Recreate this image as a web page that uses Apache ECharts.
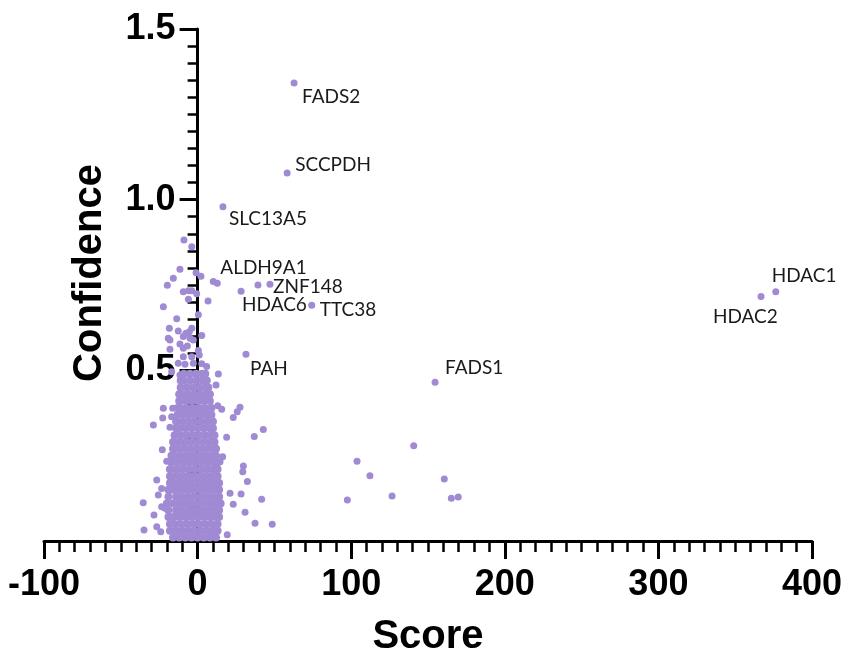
<!DOCTYPE html>
<html>
<head>
<meta charset="utf-8">
<script src="https://cdn.jsdelivr.net/npm/echarts@6/dist/echarts.min.js"></script>
<style>
html,body{margin:0;padding:0;background:#fff;}
#chart{width:846px;height:653px;}
</style>
</head>
<body>
<div id="chart"></div>
<script>
// ---- Data ----
const xTicks = [-100, 0, 100, 200, 300, 400];
const yTicks = [0.5, 1.0, 1.5];

// labelled genes
const geneNames  = ['FADS2', 'SCCPDH', 'SLC13A5', 'ALDH9A1', 'ZNF148', 'HDAC6', 'TTC38', 'PAH', 'FADS1', 'HDAC1', 'HDAC2'];
const geneScores = [62.8, 58.3, 16.5, 10.2, 47.1, 28.3, 74.3, 31.5, 154.6, 376.4, 366.8];
const geneConf   = [1.342, 1.078, 0.979, 0.760, 0.752, 0.732, 0.691, 0.547, 0.465, 0.730, 0.716];

// unlabelled scattered points
const otherScores = [
  140.7, 103.8, 112.2, 97.5, 126.6, 160.6, 165.2, 169.7, 39.3,
  -8.9, -3.8, -11.5, -15.8, -19.7, -1.0, 2.2, 12.8, -9.3, -6.0, -3.8, -6.0, -0.6, 6.8,
  -22.3, 0.5, -13.6, -18.4, -3.8, -5.4, -7.6, -12.6, -19.1, -18.0, -9.3, -4.9, -2.8, 2.7,
  -11.5, -6.7, -9.3, -18.0, 0.5, 1.1, -3.8, -9.3, -12.6, -8.2, -2.8, 2.7, 5.9, 13.5,
  -16.9, -11.5, 12.0,
  -22.3, -16.2, -22.7, -16.9, -28.8, -18.0, 13.1, 15.7, 27.6, 25.8, 23.2, 36.9, 42.8, 18.9,
  -23.0, -20.1, 16.3, 14.6, 29.8, 29.4, 32.4, -26.6, -23.4, -25.6, 28.3, 41.7, -35.4, 21.1,
  23.2, 30.9, -28.4, 37.4, 48.6, -34.9, -26.6, -24.0, 19.3, -21.2, -23.4
];
const otherConf = [
  0.279, 0.234, 0.191, 0.120, 0.132, 0.182, 0.125, 0.129, 0.750,
  0.882, 0.862, 0.796, 0.770, 0.749, 0.786, 0.776, 0.755, 0.730, 0.733, 0.733, 0.708, 0.724, 0.703,
  0.686, 0.663, 0.651, 0.623, 0.623, 0.613, 0.609, 0.615, 0.594, 0.589, 0.599, 0.594, 0.589, 0.602,
  0.577, 0.571, 0.565, 0.562, 0.558, 0.545, 0.540, 0.540, 0.521, 0.518, 0.521, 0.519, 0.511, 0.489,
  0.496, 0.486, 0.457,
  0.389, 0.389, 0.360, 0.364, 0.340, 0.333, 0.396, 0.386, 0.392, 0.379, 0.362, 0.306, 0.327, 0.304,
  0.267, 0.234, 0.247, 0.232, 0.220, 0.203, 0.174, 0.179, 0.154, 0.135, 0.138, 0.122, 0.112, 0.140,
  0.108, 0.084, 0.076, 0.052, 0.049, 0.032, 0.042, 0.027, 0.018, 0.096, 0.100
];

// dense cluster near score 0: one confidence level per row with the scores read in that row
const blobConf = [0.01, 0.03, 0.05, 0.07, 0.09, 0.11, 0.13, 0.15, 0.17, 0.19, 0.21, 0.23, 0.25,
                  0.27, 0.29, 0.31, 0.33, 0.35, 0.37, 0.39, 0.41, 0.43, 0.45, 0.47, 0.49];
const blobScores = [
  [-16, -12, -8, -4, 0, 4, 8, 12],
  [-18, -14, -10, -6, -2, 2, 6, 10, 13],
  [-18, -15, -11, -7, -3, 1, 5, 9, 13],
  [-19, -16, -12, -8, -4, 0, 4, 8, 12, 14],
  [-19, -14, -10, -6, -2, 2, 6, 10, 14],
  [-20, -16, -12, -8, -4, 0, 4, 8, 12, 15],
  [-19, -14, -10, -6, -2, 2, 6, 10, 14],
  [-19, -16, -12, -8, -4, 0, 4, 8, 12, 14],
  [-18, -14, -10, -6, -2, 2, 6, 10, 14],
  [-18, -16, -12, -8, -4, 0, 4, 8, 12, 13],
  [-18, -14, -10, -6, -2, 2, 6, 10, 13],
  [-17, -13, -9, -5, -1, 3, 7, 11, 13],
  [-17, -15, -11, -7, -3, 1, 5, 9, 12],
  [-16, -13, -9, -5, -1, 3, 7, 11, 12],
  [-16, -12, -8, -4, 0, 4, 8, 11],
  [-15, -11, -7, -3, 1, 5, 9, 11],
  [-14, -12, -8, -4, 0, 4, 8, 10],
  [-14, -10, -6, -2, 2, 6, 10],
  [-13, -9, -5, -1, 3, 7, 9],
  [-13, -11, -7, -3, 1, 5, 9],
  [-12, -8, -4, 0, 4, 8],
  [-12, -10, -6, -2, 2, 6, 8],
  [-11, -7, -3, 1, 5, 7],
  [-11, -9, -5, -1, 3, 6],
  [-9, -5, -1, 3, 5]
];

// ---- label placement (style, not data): offset of label from its dot ----
const labelPlace = {
  FADS2:   {dx: 8,   dy: 14},
  SCCPDH:  {dx: 8,   dy: -8},
  SLC13A5: {dx: 6,   dy: 12},
  ALDH9A1: {dx: 7,   dy: -14},
  ZNF148:  {dx: 3,   dy: 3},
  HDAC6:   {dx: 1,   dy: 14},
  TTC38:   {dx: 8,   dy: 5},
  PAH:     {dx: 4,   dy: 15},
  FADS1:   {dx: 10,  dy: -14},
  HDAC1:   {dx: -4,  dy: -16},
  HDAC2:   {dx: -48, dy: 20}
};

const DOT = 7;
const BLOB_DOT = 8;
const COLOR = '#a08ad3';
const GRID_LEFT = 44, GRID_RIGHT = 34;
const PLOT_W = 846 - GRID_LEFT - GRID_RIGHT;
// y axis sits at score 0: shift it inside the grid by the pixel distance from the min
const Y_AXIS_SHIFT = PLOT_W * (0 - xTicks[0]) / (xTicks[xTicks.length - 1] - xTicks[0]);

const blobData = [];
blobConf.forEach((c, i) => blobScores[i].forEach(s => blobData.push([s, c])));
const otherData = otherScores.map((s, i) => [s, otherConf[i]]);
const geneData = geneNames.map((n, i) => {
  const p = labelPlace[n];
  return {
    name: n,
    value: [geneScores[i], geneConf[i]],
    label: {
      show: true,
      position: [p.dx + DOT / 2, p.dy + DOT / 2],
      align: 'left',
      verticalAlign: 'middle'
    }
  };
});

const chart = echarts.init(document.getElementById('chart'), null, {renderer: 'canvas'});
const axisFont = 'Liberation Sans, Arial, sans-serif';
chart.setOption({
  animation: false,
  backgroundColor: '#fff',
  grid: {left: GRID_LEFT, right: GRID_RIGHT, top: 29, bottom: 112, containLabel: false, outerBoundsMode: 'none'},
  xAxis: {
    type: 'value',
    min: xTicks[0], max: xTicks[xTicks.length - 1], interval: 100,
    name: 'Score', nameLocation: 'middle', nameGap: 76,
    nameTextStyle: {fontSize: 40, fontWeight: 'bold', color: '#000', fontFamily: axisFont},
    axisLine: {onZero: false, lineStyle: {color: '#000', width: 3}},
    axisTick: {show: true, inside: false, length: 18, lineStyle: {color: '#000', width: 3}},
    minorTick: {show: true, splitNumber: 10, length: 11, lineStyle: {color: '#000', width: 2.5}},
    splitLine: {show: false},
    axisLabel: {fontSize: 36, fontWeight: 'bold', color: '#000', fontFamily: axisFont, margin: 26}
  },
  yAxis: {
    type: 'value',
    position: 'left',
    offset: -Y_AXIS_SHIFT,
    min: 0, max: yTicks[yTicks.length - 1], interval: 0.5,
    name: 'Confidence', nameLocation: 'middle', nameGap: 88, nameRotate: 90,
    nameTextStyle: {fontSize: 40, fontWeight: 'bold', color: '#000', fontFamily: axisFont, padding: [0, 0, 0, 24]},
    axisLine: {onZero: false, lineStyle: {color: '#000', width: 3}},
    axisTick: {show: true, inside: false, length: 18, lineStyle: {color: '#000', width: 3}},
    minorTick: {show: true, splitNumber: 10, length: 10, lineStyle: {color: '#000', width: 2.5}},
    splitLine: {show: false},
    axisLabel: {
      fontSize: 36, fontWeight: 'bold', color: '#000', fontFamily: axisFont, margin: 22,
      formatter: v => (yTicks.indexOf(v) >= 0 ? v.toFixed(1) : '')
    }
  },
  series: [
    {type: 'scatter', data: blobData, symbolSize: BLOB_DOT, itemStyle: {color: COLOR, opacity: 1}, silent: true, z: 3},
    {type: 'scatter', data: otherData, symbolSize: DOT, itemStyle: {color: COLOR, opacity: 1}, silent: true, z: 3},
    {type: 'scatter', data: geneData, symbolSize: DOT, itemStyle: {color: COLOR, opacity: 1}, silent: true, z: 4,
      label: {show: true, formatter: '{b}', fontSize: 19, color: '#1a1a1a', fontFamily: 'Lato, sans-serif'}}
  ]
});
</script>
</body>
</html>
